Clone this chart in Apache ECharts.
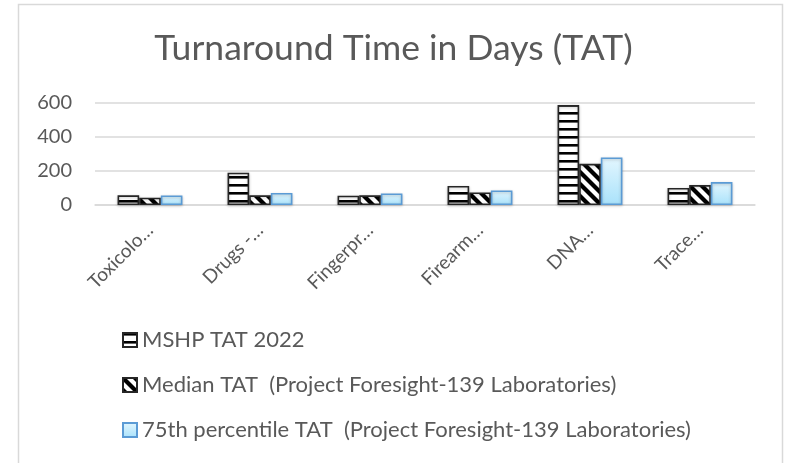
<!DOCTYPE html>
<html>
<head>
<meta charset="utf-8">
<script src="https://cdn.jsdelivr.net/npm/echarts@6/dist/echarts.min.js"></script>
<style>
  html, body { margin: 0; padding: 0; background: #ffffff; }
  #chart { width: 787px; height: 463px; }
</style>
</head>
<body>
<div id="chart"></div>
<script>
// Laboratory sections (labels as truncated on the axis)
const categories = ['Toxicolo…', 'Drugs -…', 'Fingerpr…', 'Firearm…', 'DNA…', 'Trace…'];

// Turnaround time in days per section
const mshp2022 = [57, 190, 55, 112, 588, 100];
const medianTat = [43, 57, 57, 74, 242, 117];
const p75Tat = [56, 71, 68, 86, 280, 135];

const seriesNames = [
  'MSHP TAT 2022',
  'Median TAT  (Project Foresight-139 Laboratories)',
  '75th percentile TAT  (Project Foresight-139 Laboratories)'
];

const yTicks = { min: 0, max: 600, interval: 200 };

const textColor = '#595959';
const fontFamily = 'Lato, "Open Sans", sans-serif';

// Horizontal-stripe fill
function stripePattern() {
  const c = document.createElement('canvas');
  c.width = 8; c.height = 8;
  const g = c.getContext('2d');
  g.fillStyle = '#ffffff';
  g.fillRect(0, 0, 8, 8);
  g.fillStyle = '#000000';
  g.fillRect(0, 0, 8, 2.6);
  return c;
}

// Wide downward-diagonal fill
function diagPattern() {
  const s = 12;
  const c = document.createElement('canvas');
  c.width = s; c.height = s;
  const g = c.getContext('2d');
  g.fillStyle = '#ffffff';
  g.fillRect(0, 0, s, s);
  g.strokeStyle = '#000000';
  g.lineWidth = 4.2;
  g.lineCap = 'square';
  for (let k = -s; k <= s; k += s) {
    g.beginPath();
    g.moveTo(k, 0);
    g.lineTo(k + s, s);
    g.stroke();
  }
  return c;
}

const barShadow = {
  shadowBlur: 3,
  shadowColor: 'rgba(0,0,0,0.22)',
  shadowOffsetY: 1
};

const chart = echarts.init(document.getElementById('chart'), null, { renderer: 'canvas' });

chart.setOption({
  animation: false,
  backgroundColor: '#ffffff',
  textStyle: { fontFamily: fontFamily },
  title: {
    text: 'Turnaround Time in Days (TAT)',
    left: 'center',
    top: 26,
    textStyle: {
      fontFamily: fontFamily,
      fontSize: 35.5,
      fontWeight: 'normal',
      color: textColor
    }
  },
  graphic: [{
    type: 'rect',
    shape: { x: 18.5, y: 4.5, width: 764, height: 470 },
    style: { fill: 'none', stroke: '#d9d9d9', lineWidth: 1.5 },
    silent: true,
    z: -1
  }],
  legend: {
    orient: 'vertical',
    left: 117,
    top: 322,
    itemWidth: 14,
    itemHeight: 14,
    itemGap: 19,
    icon: 'rect',
    textStyle: {
      fontFamily: fontFamily,
      fontSize: 22,
      color: textColor,
      lineHeight: 26
    },
    data: seriesNames
  },
  grid: {
    left: 95,
    right: 32,
    top: 103,
    bottom: 258,
    containLabel: false
  },
  xAxis: {
    type: 'category',
    data: categories,
    axisLine: { show: true, lineStyle: { color: '#d9d9d9', width: 1.5 } },
    axisTick: { show: false },
    axisLabel: {
      rotate: 45,
      interval: 0,
      margin: 22,
      fontFamily: fontFamily,
      fontSize: 19,
      color: textColor
    }
  },
  yAxis: {
    type: 'value',
    min: yTicks.min,
    max: yTicks.max,
    interval: yTicks.interval,
    axisLine: { show: false },
    axisTick: { show: false },
    splitLine: { lineStyle: { color: '#d9d9d9', width: 1.5 } },
    axisLabel: {
      margin: 23,
      fontFamily: fontFamily,
      fontSize: 20,
      color: textColor
    }
  },
  series: [
    {
      name: seriesNames[0],
      type: 'bar',
      data: mshp2022,
      barGap: '0%',
      barCategoryGap: '41%',
      itemStyle: Object.assign({
        color: { image: stripePattern(), repeat: 'repeat' },
        borderColor: '#262626',
        borderWidth: 1.6
      }, barShadow)
    },
    {
      name: seriesNames[1],
      type: 'bar',
      data: medianTat,
      barGap: '0%',
      barCategoryGap: '41%',
      itemStyle: Object.assign({
        color: { image: diagPattern(), repeat: 'repeat' },
        borderColor: '#262626',
        borderWidth: 1.6
      }, barShadow)
    },
    {
      name: seriesNames[2],
      type: 'bar',
      data: p75Tat,
      barGap: '0%',
      barCategoryGap: '41%',
      itemStyle: Object.assign({
        color: {
          type: 'linear', x: 0, y: 0, x2: 0, y2: 1,
          colorStops: [
            { offset: 0, color: '#e3f6fe' },
            { offset: 1, color: '#a9e2fb' }
          ]
        },
        borderColor: '#5b9bd5',
        borderWidth: 1.6
      }, barShadow)
    }
  ]
});
</script>
</body>
</html>
